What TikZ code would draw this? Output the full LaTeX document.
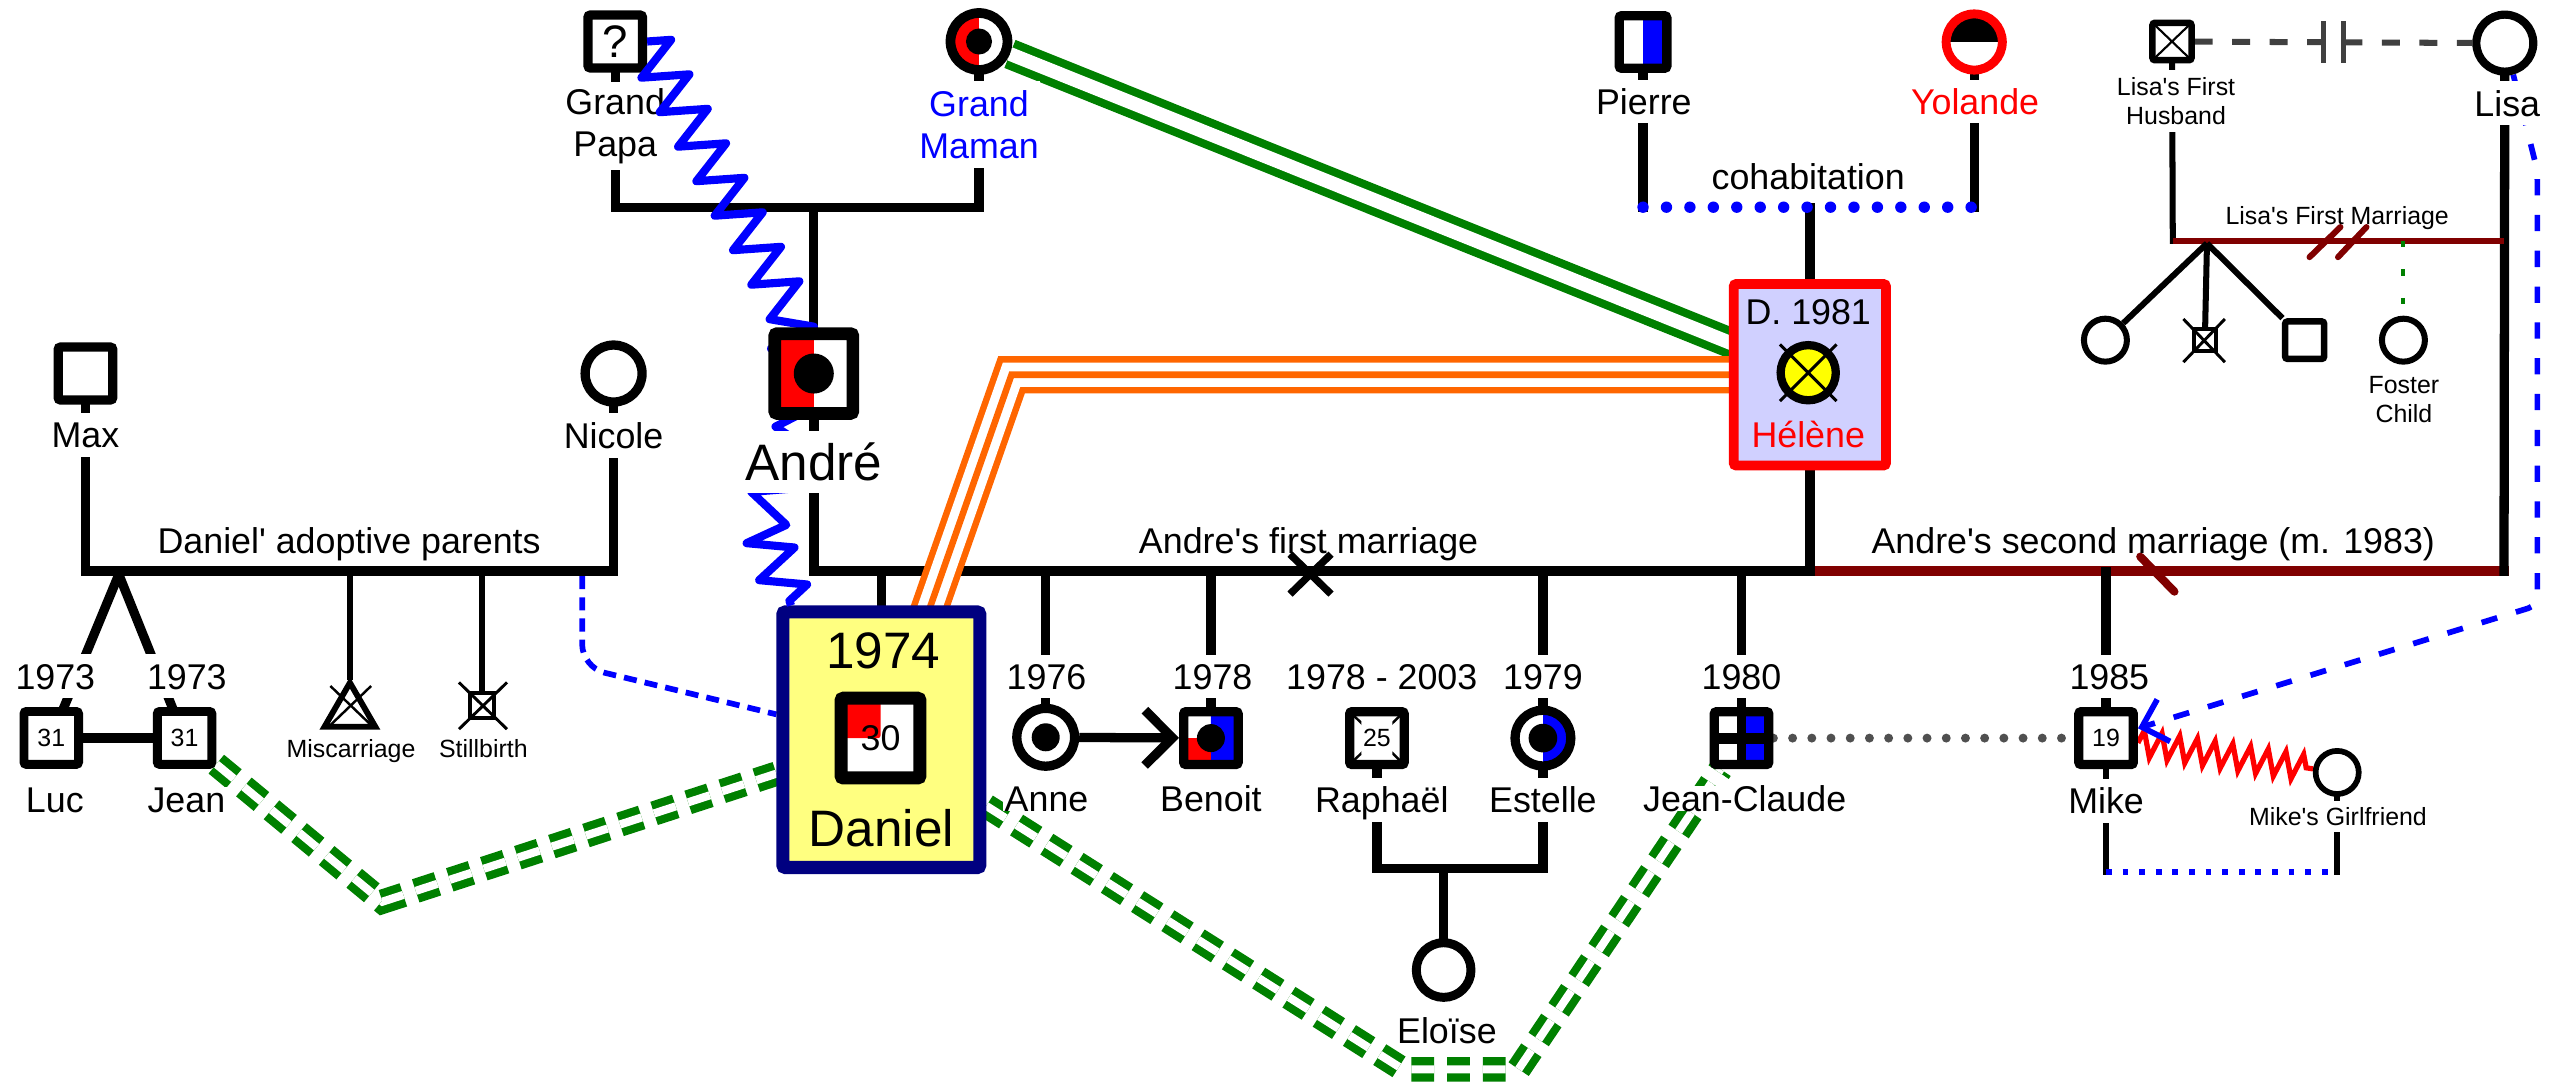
\documentclass[tikz,border=0pt]{standalone}
\usepackage{fontspec}
\setmainfont{Liberation Sans}
\usetikzlibrary{arrows.meta,decorations.pathmorphing,shapes.geometric}
\definecolor{cblue}{RGB}{0,0,255}
\definecolor{cred}{RGB}{255,0,0}
\definecolor{cgreen}{RGB}{0,128,0}
\definecolor{corange}{RGB}{255,102,0}
\definecolor{cdred}{RGB}{128,0,0}
\definecolor{cnavy}{RGB}{0,0,128}
\definecolor{cyfill}{RGB}{255,255,128}
\definecolor{clav}{RGB}{208,208,255}
\definecolor{cgray}{RGB}{80,80,80}
\definecolor{cgrayd}{RGB}{64,64,64}
\definecolor{cyel}{RGB}{255,255,0}
\newcommand\fN{\fontsize{22}{26}\selectfont}
\newcommand\fS{\fontsize{15.3}{18}\selectfont}
\newcommand\fL{\fontsize{31.5}{36}\selectfont}
\newcommand\fQ{\fontsize{28}{30}\selectfont}
\newcommand\ppb{path picture bounding box}
\newcommand\qs{\textquotesingle}
\pgfdeclarelayer{bg}
\pgfsetlayers{bg,main}
\tikzset{
  male/.style={draw, rectangle, fill=white, line width=5.7pt, rounded corners=1.5pt,
    minimum width=33.5pt, minimum height=32.5pt, inner sep=0pt},
  female/.style={draw, circle, fill=white, line width=5.7pt, minimum size=35pt, inner sep=0pt},
  lblbase/.style={fill=white, inner xsep=1pt, inner ysep=0pt},
  lbl/.style={lblbase, font=\fN, text height=15.8pt, text depth=0pt},
  slbl/.style={lblbase, font=\fS, text height=11pt, text depth=0pt},
  blbl/.style={lblbase, font=\fL, text height=22.6pt, text depth=0pt},
  mlbl/.style={lblbase, font=\fN, align=center},
  smlbl/.style={lblbase, font=\fS, align=center},
  kin/.style={line width=5.7pt, line cap=rect},
  thinkin/.style={line width=3.7pt, line cap=rect},
  gdd/.style={draw=cgreen, line width=5pt, double=white, double distance=5pt, dash pattern=on 14pt off 8pt},
  orangethree/.style={draw=corange, line width=23pt, postaction={draw=white, line width=15pt}, postaction={draw=corange, line width=4pt}},
}
\begin{document}
\begin{tikzpicture}[x=1pt, y=-1pt]
\useasboundingbox (0,0) rectangle (1568,667);
% ---------- symbols ----------
\node[male, font=\fQ] (gp) at (378,25.5) {?};
\node[female, line width=6pt, path picture={\fill[cred] (\ppb.south west) rectangle (\ppb.north); \fill[black] (\ppb.center) circle (8pt);}] (gm) at (601.5,25.5) {};
\node[male] (max) at (52.5,229.5) {};
\node[female] (nicole) at (377,229.5) {};
\node[male, line width=5.5pt, font=\fS] (luc) at (31.5,453.4) {31};
\node[male, line width=5.5pt, font=\fS] (jean) at (113.4,453.4) {31};
\node[draw, regular polygon, regular polygon sides=3, line width=3.6pt, minimum size=36pt, inner sep=0pt, fill=white] (misc) at (215,437.5) {};
\node[male, line width=2.5pt, minimum width=15pt, minimum height=15.5pt, rounded corners=0pt] (still) at (296.2,433.4) {};
\node[draw=cnavy, line width=8pt, fill=cyfill, rectangle, rounded corners=1.5pt, minimum width=121pt, minimum height=157pt, inner sep=0pt] (daniel) at (541.5,454.5) {};
\node[male, line width=8pt, minimum width=48.5pt, minimum height=49pt, font=\fN, path picture={\fill[cred] (\ppb.north west) rectangle (\ppb.center);}] (dansym) at (541,453.5) {30};
\node[font=\fL, inner sep=0pt, text height=22.6pt, text depth=0pt] (danyear) at (542.6,399.3) {1974};
\node[font=\fL, inner sep=0pt, text height=22.6pt, text depth=0pt] (danname) at (541.5,508.5) {Daniel};
\node[female, minimum size=35.5pt, path picture={\fill[black] (\ppb.center) circle (8.6pt);}] (anne) at (642.5,453) {};
\node[male, path picture={\fill[cblue] (\ppb.south) rectangle (\ppb.north east); \fill[cred] (\ppb.south west) rectangle (\ppb.center); \fill[black] (\ppb.center) circle (8.6pt);}] (benoit) at (744,453.5) {};
\node[male, font=\fS, path picture={\draw[black, line width=1.5pt] (\ppb.south west) -- (\ppb.north east) (\ppb.north west) -- (\ppb.south east); \fill[white] ([shift={(-9.5,-11.5)}]\ppb.center) rectangle ([shift={(9.5,11.5)}]\ppb.center);}] (raph) at (846,453.5) {25};
\node[female, minimum size=34.3pt, path picture={\fill[cblue] (\ppb.south) rectangle (\ppb.north east); \fill[black] (\ppb.center) circle (8.8pt);}] (est) at (948,453.5) {};
\node[male, path picture={\fill[cblue] (\ppb.south) rectangle (\ppb.north east); \draw[black, line width=5.5pt] (\ppb.north) -- (\ppb.south); \draw[black, line width=6.8pt] (\ppb.west) -- (\ppb.east);}] (jc) at (1070,453.5) {};
\node[male, font=\fS] (mike) at (1294,453.5) {19};
\node[female, line width=3.5pt, minimum size=26.5pt] (gf) at (1436,474.6) {};
\node[female, line width=5.5pt, minimum size=33.6pt] (elo) at (887,596) {};
\node[draw=cred, line width=6pt, fill=clav, rectangle, rounded corners=1.5pt, minimum width=93.5pt, minimum height=111.5pt, inner sep=0pt] (helene) at (1112,230.25) {};
\node[female, fill=cyel, line width=5.1pt, minimum size=33.9pt] (helsym) at (1111,229) {};
\node[font=\fN, inner sep=0pt, text height=15.8pt, text depth=0pt] (hdate) at (1111,191.3) {D. 1981};
\node[font=\fN, inner sep=0pt, text height=15.8pt, text depth=0pt, text=cred] (hname) at (1111,267) {Hélène};
\node[male, minimum width=29.3pt, minimum height=32.3pt, path picture={\fill[cblue] (\ppb.south) rectangle (\ppb.north east);}] (pierre) at (1009.5,25.8) {};
\node[female, draw=cred, line width=5.5pt, minimum size=34.5pt, path picture={\fill[black] (\ppb.north west) rectangle (\ppb.east);}] (yol) at (1213,25.8) {};
\node[male, line width=4pt, minimum width=24pt, minimum height=23pt, path picture={\draw[black, line width=1.3pt] (\ppb.south west) -- (\ppb.north east) (\ppb.north west) -- (\ppb.south east);}] (husb) at (1334.5,25.5) {};
\node[female, line width=5pt, minimum size=35pt] (lisa) at (1539,26.5) {};
\node[female, line width=3.7pt, minimum size=26.4pt] (lk1) at (1293.6,209) {};
\node[male, line width=2.5pt, minimum width=13.5pt, minimum height=13.7pt, rounded corners=0pt] (lk2) at (1354.7,209) {};
\node[male, line width=4pt, minimum width=24pt, minimum height=23pt] (lk3) at (1416,209) {};
\node[female, line width=3.7pt, minimum size=26.4pt] (foster) at (1476.7,209) {};
% crosses on symbols
\draw[line width=1.5pt] (203,421.5) -- (228,445.5) (228,421.5) -- (203,445.5);
\draw[line width=1.8pt] (282,419.3) -- (311.5,448) (311.5,419.3) -- (282,448);
\draw[line width=1.8pt] (1341.5,196) -- (1367,222.5) (1367,196) -- (1341.5,222.5);
\draw[line width=1.8pt] (1093.6,211.6) -- (1128.4,246.4) (1128.4,211.6) -- (1093.6,246.4);
% ---------- Grand Papa label, then zigzag over it ----------
\node[mlbl, minimum height=54pt, inner xsep=0pt] (gpl) at (378,77.5) {Grand\\Papa};
\coordinate (zz1) at (486,192);
\coordinate (zz2) at (490,262);
\coordinate (zz3) at (469,322);
\draw[cblue, line width=5pt, line join=round, decorate, decoration={zigzag, segment length=24pt, amplitude=13.5pt}]
  (gp.east) -- (zz1) -- (zz2) -- (zz3) -- ([shift={(9,0)}]daniel.north west);
% Andre drawn over the zigzag
\node[male, line width=7.8pt, minimum width=48pt, minimum height=49pt, path picture={\fill[cred] (\ppb.south west) rectangle (\ppb.north); \fill[black] (\ppb.center) circle (12.3pt);}] (andre) at (500,229.5) {};
% ---------- labels ----------
\node[mlbl, minimum height=53.5pt, text=cblue] (gml) at (601.5,76.75) {Grand\\Maman};
\node[lbl, minimum height=27.5pt] (maxl) at (52.5,267.3) {Max};
\node[lbl, minimum height=27.5pt] (nicl) at (377,267.75) {Nicole};
\node[blbl, minimum height=38pt] (andl) at (500,284) {André};
\node[lbl, fill=none] (adoptl) at (214.5,332) {Daniel\qs{} adoptive parents};
\node[lbl, minimum height=27pt] (ya) at (34,415.5) {1973};
\node[lbl, minimum height=27pt] (yb) at (114.8,415.5) {1973};
\node[lbl] (lucl) at (33.7,491.6) {Luc};
\node[lbl] (jeanl) at (114.5,491.6) {Jean};
\node[slbl] (miscl) at (215.7,460.2) {Miscarriage};
\node[slbl] (stilll) at (297,460.2) {Stillbirth};
\node[lbl, minimum height=26.5pt] (y76) at (643,415.75) {1976};
\node[lbl] (annel) at (643,490.6) {Anne};
\node[lbl, minimum height=26.5pt] (y78) at (745,415.75) {1978};
\node[lbl] (benl) at (744,490.6) {Benoit};
\node[lbl] (y7803) at (849,415.75) {1978 - 2003};
\node[lbl, minimum height=27pt] (raphl) at (849,491.5) {Raphaël};
\node[lbl, minimum height=26.5pt] (y79) at (948,415.75) {1979};
\node[lbl, minimum height=27pt] (estl) at (948,491.5) {Estelle};
\node[lbl, minimum height=26.5pt] (y80) at (1070,415.75) {1980};
\node[lbl] (jcl) at (1072,490.6) {Jean-Claude};
\node[lbl, minimum height=26.5pt] (y85) at (1296,415.75) {1985};
\node[lbl, minimum height=27.2pt] (mikel) at (1294,492.2) {Mike};
\node[slbl, minimum height=19pt] (gfl) at (1436.5,501.7) {Mike\qs s Girlfriend};
\node[lbl] (elol) at (889,633.5) {Eloïse};
\node[lbl, fill=none] (m1l) at (804,332) {Andre\qs s first marriage};
\node[lbl, fill=none] (m2l) at (1323,332) {Andre\qs s second marriage (m. 1983)};
\node[lbl] (cohl) at (1111,108.5) {cohabitation};
\node[lbl, minimum height=26.4pt] (pierl) at (1010,62.6) {Pierre};
\node[lbl, minimum height=26.4pt, text=cred] (yoll) at (1213.5,62.6) {Yolande};
\node[smlbl, minimum height=38pt] (husbl) at (1337,62) {Lisa\qs s First\\Husband};
\node[lbl, minimum height=27pt] (lisal) at (1540.5,63.5) {Lisa};
\node[slbl, fill=none] (lfml) at (1436,132.5) {Lisa\qs s First Marriage};
\node[smlbl] (fosl) at (1477,245.7) {Foster\\Child};
% ---------- connectors (background layer) ----------
\begin{pgfonlayer}{bg}
\fill[white] (0,0) rectangle (1568,667);
% grandparents
\coordinate (gpL) at (378,127.5);
\coordinate (gpR) at (601.5,127.5);
\coordinate (gpM) at (500,127.5);
\draw[kin] (gp) -- (gpL) -- (gpR) -- (gm);
\draw[kin] (gpM) -- (andre);
% Andre's marriages
\coordinate (m1L) at (500,351);
\coordinate (m1R) at (1112,351);
\coordinate (m2R) at (1538.5,351);
\draw[kin, line width=6pt] (andre) -- (m1L) -- (m1R);
\draw[kin, line width=6pt, cdred] (m1R) -- (m2R);
\draw[kin] (helene) -- (m1R);
\draw[kin] (lisa) -- (m2R);
\foreach \c in {daniel,anne,benoit,est,jc} \draw[kin] (\c) -- (\c |- m1L);
\draw[kin] (mike) -- (mike |- m2R);
\draw[line width=4.5pt] (792.6,340.5) -- (817.8,365) (817.8,340.5) -- (792.6,365);
\draw[cdred, line width=5pt, line cap=round] (1315,342) -- (1336,363.5);
% adoptive parents
\coordinate (adL) at (52.5,351);
\coordinate (adR) at (377,351);
\draw[kin, line width=6pt] (max) -- (adL) -- (adR) -- (nicole);
\coordinate (twA) at (73,353);
\draw[kin] (twA) -- (luc);
\draw[kin] (twA) -- (jean);
\draw[line width=6.3pt] (luc) -- (jean);
\draw[line width=3.5pt, line cap=rect] (misc |- adL) -- (misc);
\draw[line width=4pt, line cap=rect] (still |- adL) -- (still);
% Raphael + Estelle -> Eloise
\coordinate (ueL) at (846,533.6);
\coordinate (ueR) at (948,533.6);
\coordinate (ueM) at (887,533.6);
\draw[kin, line width=6pt] (raph) -- (ueL) -- (ueR) -- (est);
\draw[kin] (ueM) -- (elo);
% Pierre + Yolande -> Helene
\coordinate (pyL) at (1009.5,127.3);
\coordinate (pyR) at (1213,127.3);
\coordinate (pyM) at (1112,127.3);
\draw[kin] (pierre) -- (pyL);
\draw[kin] (yol) -- (pyR);
\draw[kin] (pyM) -- (helene);
\draw[cblue, line width=7pt, line cap=round, dash pattern=on 0pt off 14.4pt] (pyL) -- (pyR);
% Lisa's first marriage
\coordinate (lfL) at (1335,148);
\coordinate (lfR) at (1538.5,148);
\coordinate (lfA) at (1356,149.5);
\draw[thinkin] (husb) -- (lfL);
\draw[cdred, line width=3.7pt] (lfL) -- (lfR);
\draw[cdred, line width=3.7pt, line cap=round] (1419,158) -- (1438,139.5) (1436.5,158) -- (1454,139.5);
\draw[line width=3.7pt] (lfA) -- (lk1);
\draw[line width=3.7pt] (lfA) -- (lk2);
\draw[line width=3.7pt] (lfA) -- (lk3);
\draw[cgreen, line width=2.5pt, dash pattern=on 4pt off 13.5pt] (foster |- lfL) -- (foster);
\draw[cgrayd, line width=3.7pt, dash pattern=on 11pt off 12pt] (husb) -- coordinate[pos=0.5] (hlm) (lisa);
\draw[cgrayd, line width=3pt] ([shift={(-6,-13)}]hlm) -- ([shift={(-6,13)}]hlm) ([shift={(6,-13)}]hlm) -- ([shift={(6,13)}]hlm);
% emotional relationships
\draw[draw=cgreen, line width=5pt, double=white, double distance=8.5pt] (gm) -- (helene.center);
\coordinate (orc) at (621.5,230.25);
\draw[orangethree] (helene.center) -- (orc) -- ([shift={(20.5,28)}]daniel.north);
\coordinate (nd1) at (357.7,354);
\coordinate (nd2) at (357.7,410);
\draw[cblue, line width=3.5pt, dash pattern=on 8pt off 5pt, rounded corners=14pt] (nd1) -- (nd2) -- (daniel);
\coordinate (gv1) at (235,554);
\draw[gdd] (jean) -- (gv1) -- (daniel);
\coordinate (gv2) at (862,657);
\coordinate (gv3) at (933,657);
\draw[gdd] (daniel) -- (gv2) -- (gv3) -- (jc);
\draw[line width=5.7pt, -{Straight Barb[length=17pt, width=34pt]}] (anne) -- (benoit);
\draw[cgray, line width=5.5pt, line cap=round, dash pattern=on 0pt off 11.8pt] (jc) -- (mike);
\draw[cred, line width=3.2pt, decorate, decoration={zigzag, segment length=11pt, amplitude=8pt}] (mike) -- (gf);
\coordinate (mgL) at (1294,535.7);
\coordinate (mgR) at (1436,535.7);
\draw[line width=3.5pt, line cap=rect] (mike) -- (mgL);
\draw[line width=3.5pt, line cap=rect] (gf) -- (mgR);
\draw[cblue, line width=3.5pt, dash pattern=on 3.5pt off 6.7pt] (mgL) -- (mgR);
\coordinate (lm1) at (1559,105);
\coordinate (lm2) at (1559,372);
\draw[cblue, line width=3.5pt, dash pattern=on 10pt off 12pt, rounded corners=6pt, -{Straight Barb[length=14pt, width=27pt]}] (lisa.-75) -- (lm1) -- (lm2) -- (mike);
\end{pgfonlayer}
\end{tikzpicture}
\end{document}
